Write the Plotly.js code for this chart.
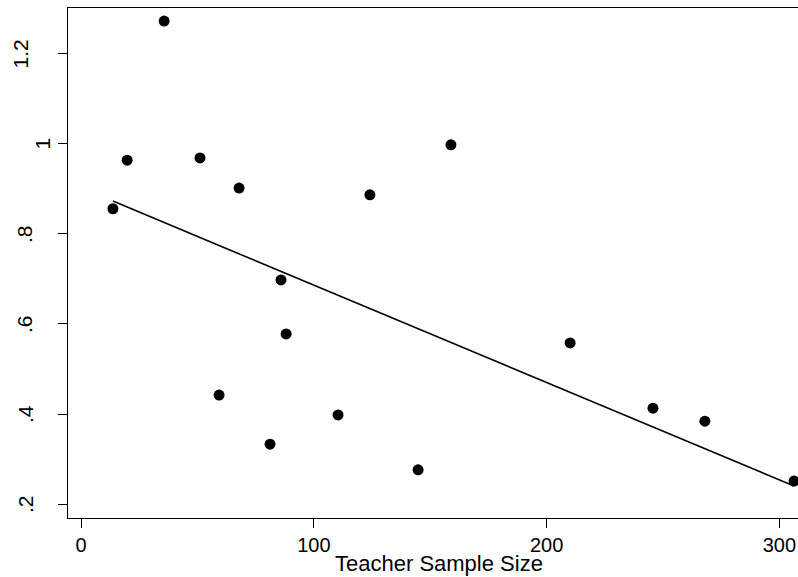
<!DOCTYPE html>
<html>
<head>
<meta charset="utf-8">
<script src="https://cdn.plot.ly/plotly-3.0.1.min.js"></script>
<style>html,body{margin:0;padding:0;background:#fff;}#chart{width:798px;height:577px;}</style>
</head>
<body>
<div id="chart"></div>
<script>
var sampleSize = [13.7, 19.8, 35.7, 51.1, 59.3, 67.9, 81.2, 85.9, 88.1, 110.4, 124.1, 144.8, 158.9, 210.1, 245.7, 268.0, 306.3];
var effectValue = [0.856, 0.964, 1.273, 0.969, 0.442, 0.902, 0.333, 0.698, 0.578, 0.398, 0.887, 0.276, 0.998, 0.558, 0.413, 0.384, 0.251];
var fitX = [13.7, 306.3];
var fitY = [0.873, 0.240];
var xTickVals = [0, 100, 200, 300];
var yTickVals = [0.2, 0.4, 0.6, 0.8, 1, 1.2];
var yTickText = ['.2', '.4', '.6', '.8', '1', '1.2'];
var xTitle = 'Teacher Sample Size';

var font = 'Liberation Sans, Arial, sans-serif';
var W = 798, H = 577, ML = 68, MR = 0, MT = 8, MB = 59;
var plotW = W - ML - MR, plotH = H - MT - MB;
function px2paperX(p) { return (p - ML) / plotW; }
function px2paperY(p) { return (H - MB - p) / plotH; }
// horizontal centre (px) of each rotated y label, as drawn in the reference
function labelCentre(t) { return t.length === 1 ? 42.5 : (t.length === 2 ? 25 : 20.5); }

var annotations = yTickVals.map(function (v, i) {
  return {
    xref: 'paper', yref: 'y', x: px2paperX(labelCentre(yTickText[i])), y: v,
    text: yTickText[i], showarrow: false, textangle: -90,
    xanchor: 'center', yanchor: 'middle', font: {size: 21, family: font, color: '#000'}
  };
});
annotations.push({
  xref: 'paper', yref: 'paper', x: px2paperX(439), y: px2paperY(563),
  text: xTitle, showarrow: false, xanchor: 'center', yanchor: 'middle',
  font: {size: 22, family: font, color: '#000'}
});

var traces = [
  {x: sampleSize, y: effectValue, type: 'scatter', mode: 'markers',
   marker: {color: '#000', size: 11}, cliponaxis: true, hoverinfo: 'skip'},
  {x: fitX, y: fitY, type: 'scatter', mode: 'lines',
   line: {color: '#000', width: 1.6}, hoverinfo: 'skip'}
];
var layout = {
  width: W, height: H,
  margin: {l: ML, r: MR, t: MT, b: MB},
  showlegend: false,
  paper_bgcolor: '#fff', plot_bgcolor: '#fff',
  font: {family: font, color: '#000', size: 20},
  annotations: annotations,
  xaxis: {
    range: [-5.6, 308.0], tickvals: xTickVals, ticks: 'outside', ticklen: 9, tickwidth: 1, tickcolor: '#000',
    showline: true, linecolor: '#000', linewidth: 1, mirror: true, showgrid: false, zeroline: false,
    tickfont: {size: 20, family: font}
  },
  yaxis: {
    range: [0.169, 1.302], tickvals: yTickVals, showticklabels: false,
    ticks: 'outside', ticklen: 9, tickwidth: 1, tickcolor: '#000',
    showline: true, linecolor: '#000', linewidth: 1, showgrid: false, zeroline: false
  }
};
Plotly.newPlot('chart', traces, layout, {staticPlot: true});
</script>
</body>
</html>
